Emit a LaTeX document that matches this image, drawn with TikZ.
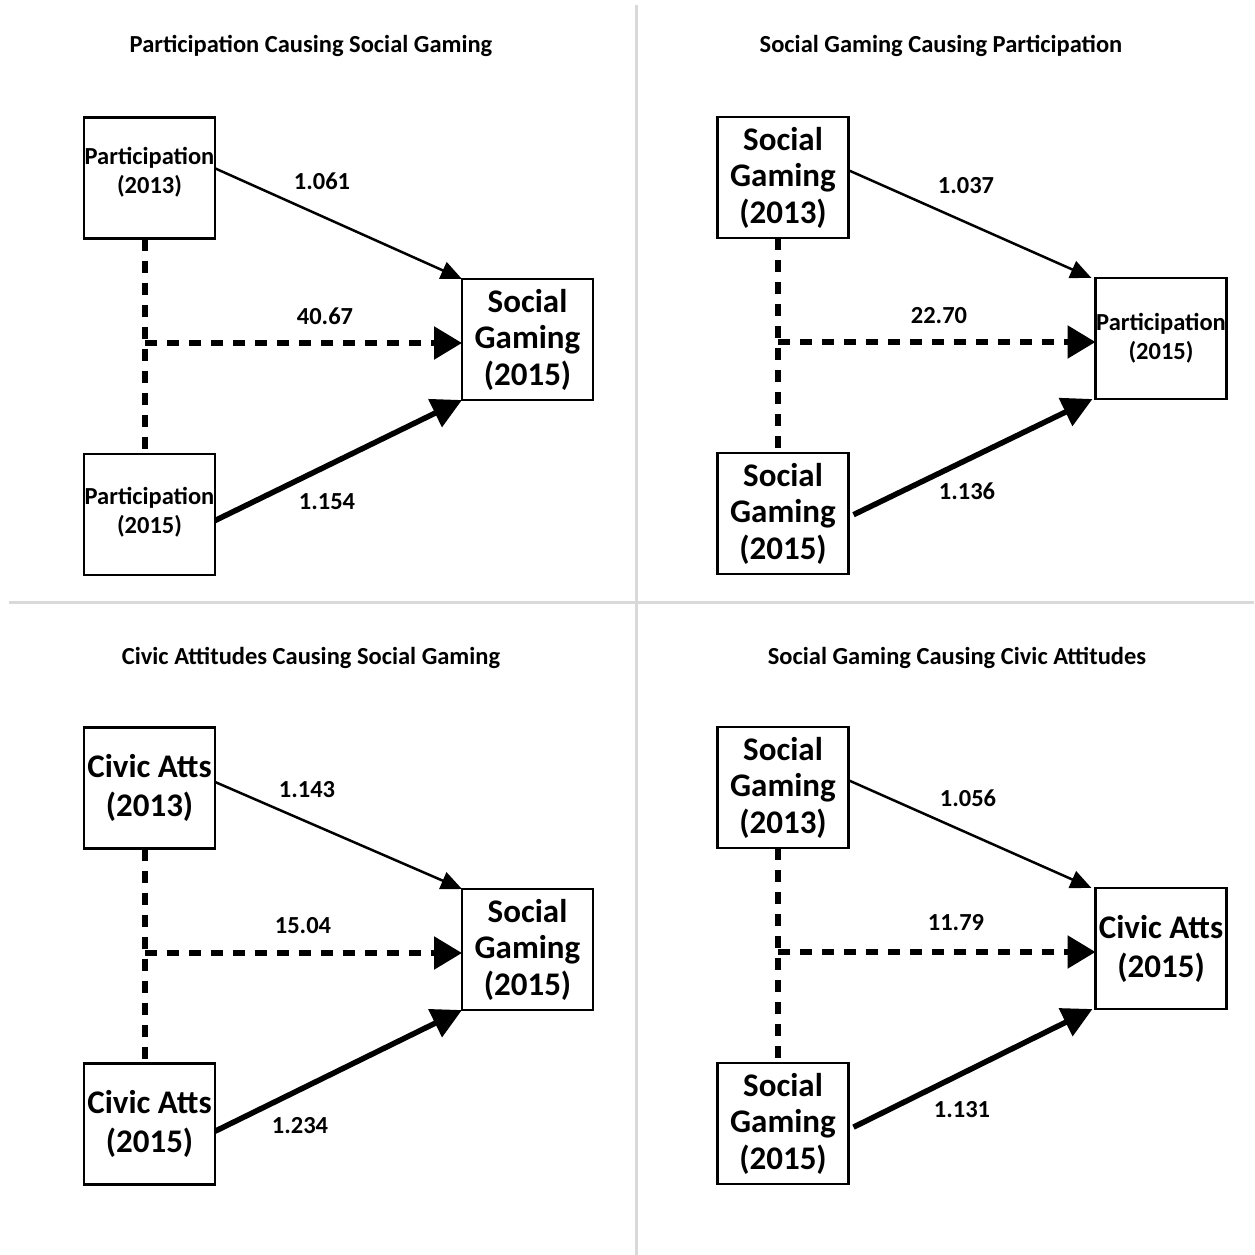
\documentclass[tikz,border=0pt]{standalone}
\usepackage{fontspec}
\setmainfont{Carlito}
\usetikzlibrary{arrows.meta,calc}
\tikzset{
  nbox/.style={draw, line width=2.5pt, minimum width=131pt, minimum height=121pt, inner sep=0pt, outer sep=0pt, align=center},
  bigtxt/.style={font=\bfseries\fontsize{33}{36.5}\selectfont},
  civtxt/.style={font=\bfseries\fontsize{33}{39}\selectfont},
  smalltxt/.style={font=\bfseries\fontsize{24.5}{29}\selectfont},
  ttl/.style={font=\bfseries\fontsize{24.5}{28}\selectfont},
  lbl/.style={font=\bfseries\fontsize{24.5}{28}\selectfont},
  thinarr/.style={line width=2.5pt, -{Triangle[length=21pt,width=18pt]}},
  thickarr/.style={line width=5.5pt, -{Triangle[length=30pt,width=30pt]}},
  dasharr/.style={line width=5.5pt, dash pattern=on 12pt off 10pt, -{Triangle[length=28pt,width=32pt]}},
  dashln/.style={line width=5.5pt, dash pattern=on 12pt off 10pt},
  divider/.style={draw=black!15, line width=3pt}
}
\begin{document}
\begin{tikzpicture}[x=1pt,y=-1pt]
\useasboundingbox (0,0) rectangle (1254,1255);
\fill[white] (0,0) rectangle (1254,1255);
% dividers
\draw[divider] (636,5) -- (636,1255);
\draw[divider] (9,602) -- (1254,602);

% ---------- Panel 1 (top left) ----------
\node[ttl] (t1) at (311,45.5) {Participation Causing Social Gaming};
\node[nbox] (a1) at (149.5,178) {};
\node[smalltxt, align=center] (a1t) at ([yshift=5.5pt]a1.center) {Participation\\(2013)};
\node[nbox] (b1) at (149.5,514.5) {};
\node[smalltxt, align=center] (b1t) at ([yshift=2.5pt]b1.center) {Participation\\(2015)};
\node[nbox, bigtxt] (c1) at (527.5,339.5) {Social\\Gaming\\(2015)};
\coordinate (j1) at (145,343);
\draw[thinarr] ($(a1.north east)!0.42!(a1.south east)$) -- (c1.north west);
\draw[dashln] ([xshift=-4.5pt]a1.south) -- ([xshift=-4.5pt]b1.north);
\draw[dasharr] (j1) -- (j1 -| c1.west);
\draw[thickarr] ($(b1.north east)!0.55!(b1.south east)$) -- (c1.south west);
\node[lbl] (l11) at (322,181) {1.061};
\node[lbl] (l12) at (325,316) {40.67};
\node[lbl] (l13) at (327,502) {1.154};

% ---------- Panel 2 (top right) ----------
\node[ttl] (t2) at (941,45.5) {Social Gaming Causing Participation};
\node[nbox, bigtxt] (a2) at (783,177.5) {Social\\Gaming\\(2013)};
\node[nbox, bigtxt] (b2) at (783,513.5) {Social\\Gaming\\(2015)};
\node[nbox, smalltxt] (c2) at (1161,338.5) {Participation\\(2015)};
\coordinate (j2) at (778,342);
\draw[thinarr] ($(a2.north east)!0.44!(a2.south east)$) -- ([xshift=-4pt]c2.north west);
\draw[dashln] ([xshift=-5pt]a2.south) -- ([xshift=-5pt]b2.north);
\draw[dasharr] (j2) -- (j2 -| c2.west);
\draw[thickarr] ([xshift=5pt]$(b2.north east)!0.51!(b2.south east)$) -- ([xshift=-3pt]c2.south west);
\node[lbl] (l21) at (966,186) {1.037};
\node[lbl] (l22) at (939,316) {22.70};
\node[lbl] (l23) at (967,491) {1.136};

% ---------- Panel 3 (bottom left) ----------
\node[ttl] (t3) at (311,657.5) {Civic Attitudes Causing Social Gaming};
\node[nbox, civtxt] (a3) at (149.5,788) {Civic Atts\\(2013)};
\node[nbox, civtxt] (b3) at (149.5,1124) {Civic Atts\\(2015)};
\node[nbox, bigtxt] (c3) at (527.5,949.5) {Social\\Gaming\\(2015)};
\coordinate (j3) at (145,953);
\draw[thinarr] ($(a3.north east)!0.45!(a3.south east)$) -- (c3.north west);
\draw[dashln] ([xshift=-4.5pt]a3.south) -- ([xshift=-4.5pt]b3.north);
\draw[dasharr] (j3) -- (j3 -| c3.west);
\draw[thickarr] ($(b3.north east)!0.56!(b3.south east)$) -- (c3.south west);
\node[lbl] (l31) at (307,790) {1.143};
\node[lbl] (l32) at (303,926) {15.04};
\node[lbl] (l33) at (300,1126) {1.234};

% ---------- Panel 4 (bottom right) ----------
\node[ttl] (t4) at (957,657.5) {Social Gaming Causing Civic Attitudes};
\node[nbox, bigtxt] (a4) at (783,787.5) {Social\\Gaming\\(2013)};
\node[nbox, bigtxt] (b4) at (783,1123.5) {Social\\Gaming\\(2015)};
\node[nbox, civtxt] (c4) at (1161,948.5) {Civic Atts\\(2015)};
\coordinate (j4) at (778,952);
\draw[thinarr] ($(a4.north east)!0.44!(a4.south east)$) -- ([xshift=-4pt]c4.north west);
\draw[dashln] ([xshift=-5pt]a4.south) -- ([xshift=-5pt]b4.north);
\draw[dasharr] (j4) -- (j4 -| c4.west);
\draw[thickarr] ([xshift=5pt]$(b4.north east)!0.53!(b4.south east)$) -- ([xshift=-3pt]c4.south west);
\node[lbl] (l41) at (968,798) {1.056};
\node[lbl] (l42) at (956,923) {11.79};
\node[lbl] (l43) at (962,1110) {1.131};
\end{tikzpicture}
\end{document}
